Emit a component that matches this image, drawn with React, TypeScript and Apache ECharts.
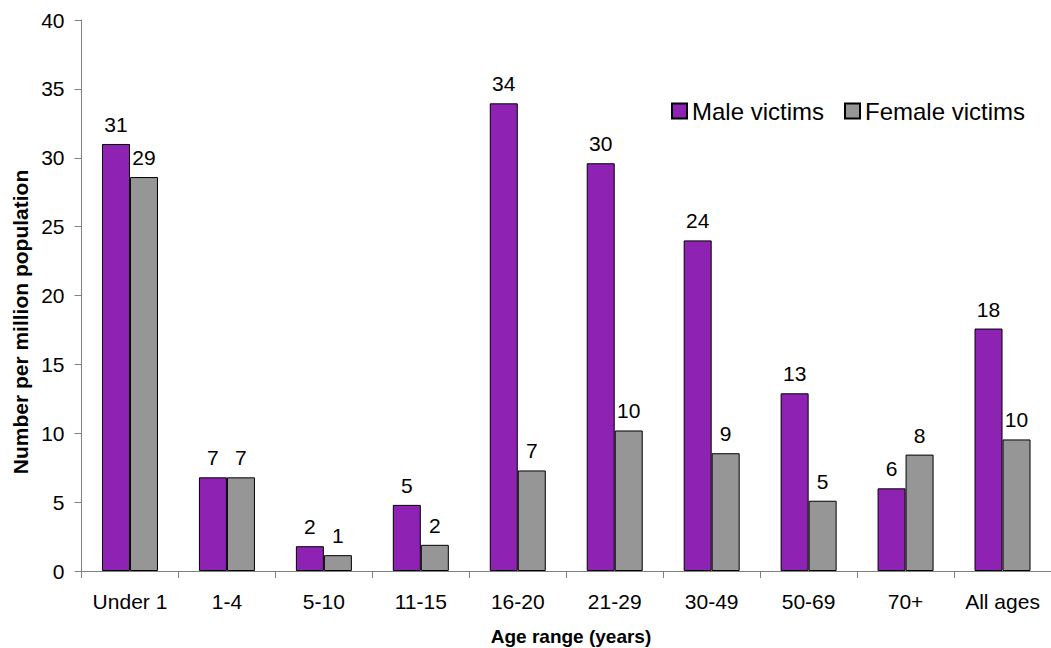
import React, { useEffect, useRef } from "react";
import * as echarts from "echarts";

const categories = ["Under 1", "1-4", "5-10", "11-15", "16-20", "21-29", "30-49", "50-69", "70+", "All ages"];
const maleValues = [31.0, 6.8, 1.8, 4.8, 33.95, 29.6, 24.0, 12.9, 6.0, 17.6];
const femaleValues = [28.6, 6.8, 1.15, 1.9, 7.3, 10.2, 8.55, 5.1, 8.45, 9.55];
const seriesNames = ["Male victims", "Female victims"];
const yTitle = "Number per million population";
const xTitle = "Age range (years)";

const FONT = "'Liberation Sans', Arial, sans-serif";
const PURPLE = "#8E22B2";
const GRAY = "#969696";

export default function App() {
  const ref = useRef<HTMLDivElement>(null);
  useEffect(() => {
    if (!ref.current) return;
    const chart = echarts.init(ref.current, null, { renderer: "svg" });
    const labelCfg = {
      show: true,
      position: "top" as const,
      distance: 9,
      color: "#000",
      fontSize: 21,
      fontFamily: FONT,
      formatter: (p: any) => String(Math.round(p.value)),
    };
    chart.setOption({
      animation: false,
      backgroundColor: "#fff",
      textStyle: { fontFamily: FONT },
      grid: { left: 81.5, top: 20, bottom: 77, right: -9.5, containLabel: false },
      legend: {
        left: 666,
        top: 94,
        itemWidth: 15,
        itemHeight: 15,
        itemGap: 20,
        icon: "rect",
        textStyle: { fontSize: 24, color: "#000", fontFamily: FONT },
        data: seriesNames,
      },
      xAxis: {
        type: "category",
        data: categories,
        axisLine: { lineStyle: { color: "#808080", width: 1 } },
        axisTick: { show: true, length: 7, lineStyle: { color: "#808080" } },
        axisLabel: { color: "#000", fontSize: 21, fontFamily: FONT, margin: 20, interval: 0 },
        splitLine: { show: false },
      },
      yAxis: {
        type: "value",
        min: 0,
        max: 40,
        interval: 5,
        axisLine: { show: true, lineStyle: { color: "#808080", width: 1 } },
        axisTick: { show: true, length: 7, lineStyle: { color: "#808080" } },
        axisLabel: { color: "#000", fontSize: 21, fontFamily: FONT, margin: 17 },
        splitLine: { show: false },
      },
      graphic: [
        {
          type: "text",
          x: 20,
          y: 322,
          rotation: Math.PI / 2,
          style: {
            text: yTitle,
            fontSize: 21,
            fontWeight: "bold",
            fontFamily: FONT,
            fill: "#000",
            textAlign: "center",
            textVerticalAlign: "middle",
          },
        },
        {
          type: "text",
          x: 571,
          y: 636,
          style: {
            text: xTitle,
            fontSize: 19,
            fontWeight: "bold",
            fontFamily: FONT,
            fill: "#000",
            textAlign: "center",
            textVerticalAlign: "middle",
          },
        },
      ],
      series: [
        {
          name: seriesNames[0],
          type: "bar",
          data: maleValues,
          barWidth: 28,
          barGap: "0%",
          itemStyle: { color: PURPLE, borderColor: "#000", borderWidth: 1 },
          label: labelCfg,
        },
        {
          name: seriesNames[1],
          type: "bar",
          data: femaleValues,
          barWidth: 28,
          barGap: "0%",
          itemStyle: { color: GRAY, borderColor: "#000", borderWidth: 1 },
          label: labelCfg,
        },
      ],
    });
    return () => chart.dispose();
  }, []);
  return (
    <div
      ref={ref}
      style={{ position: "fixed", left: 0, top: 0, width: 1051, height: 648, background: "#fff" }}
    />
  );
}
